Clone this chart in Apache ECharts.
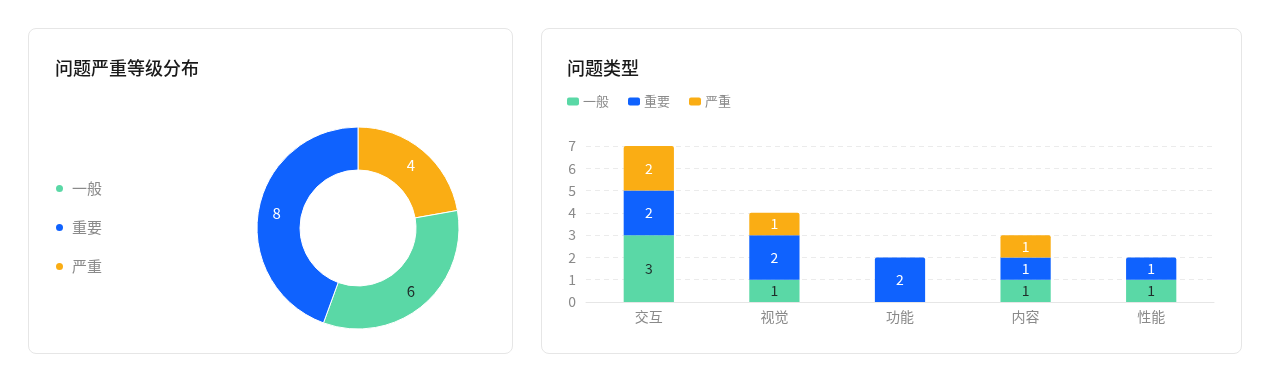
<!DOCTYPE html>
<html><head><meta charset="utf-8">
<script src="https://cdn.jsdelivr.net/npm/echarts@6/dist/echarts.min.js"></script>
<style>
html,body{margin:0;padding:0;background:#fff;width:1269px;height:379px;overflow:hidden;}
.card{position:absolute;top:28px;height:326px;border:1px solid #e6e6e6;border-radius:8px;box-sizing:border-box;background:#fff;}
#c1{left:28px;width:485px;}
#c2{left:541px;width:701px;}
.chart{position:absolute;left:-1px;top:-1px;}
</style></head>
<body>
<div class="card" id="c1"><div class="chart" id="pie" style="width:485px;height:326px"></div></div>
<div class="card" id="c2"><div class="chart" id="bar" style="width:701px;height:326px"></div></div>
<script>
var levels = ['一般', '重要', '严重'];
var levelColors = ['#5AD8A6', '#0F62FE', '#FAAD14'];
var levelCounts = [6, 8, 4];
var pieOrder = [2, 0, 1];
var categories = ['交互', '视觉', '功能', '内容', '性能'];
var generalVals = [3, 1, 0, 1, 1];
var importantVals = [2, 2, 2, 1, 1];
var severeVals = [2, 1, 0, 1, 0];
var yTicks = [0, 1, 2, 3, 4, 5, 6, 7];

var font = '"Noto Sans CJK SC","Noto Sans",sans-serif';
var labelDark = '#1f2d2a';

var pie = echarts.init(document.getElementById('pie'));
pie.setOption({
  textStyle:{fontFamily:font},
  title:{text:'问题严重等级分布',left:27,top:31,padding:0,textStyle:{fontFamily:font,fontSize:18,fontWeight:500,color:'#1a1a1a'}},
  legend:{orient:'vertical',left:26,top:153,padding:0,itemGap:24,icon:'circle',itemWidth:9,itemHeight:9,data:levels,
    textStyle:{fontFamily:font,fontSize:15,color:'#8a8a8a',padding:[0,0,0,3]}},
  series:[{type:'pie',center:[330,200],radius:[58,101],startAngle:90,clockwise:true,
    avoidLabelOverlap:false,
    itemStyle:{borderColor:'#fff',borderWidth:1},
    label:{show:true,position:'inside',fontFamily:font,fontSize:15,formatter:'{c}'},
    labelLine:{show:false},
    data:pieOrder.map(function(i){return {name:levels[i],value:levelCounts[i],
      itemStyle:{color:levelColors[i]},label:{color:i===0?labelDark:'#fff'}};})
  }]
});

var stacks = [generalVals, importantVals, severeVals];
function topIndex(j){var t=-1;for(var s=0;s<stacks.length;s++){if(stacks[s][j]>0)t=s;}return t;}
var bar = echarts.init(document.getElementById('bar'));
bar.setOption({
  textStyle:{fontFamily:font},
  title:{text:'问题类型',left:26,top:31,padding:0,textStyle:{fontFamily:font,fontSize:18,fontWeight:500,color:'#1a1a1a'}},
  legend:{left:26,top:67,padding:0,itemGap:19,itemWidth:12,itemHeight:8,icon:'roundRect',data:levels,
    textStyle:{fontFamily:font,fontSize:13,color:'#8a8a8a',padding:[0,0,0,-1]}},
  grid:{left:45,right:28,top:118,bottom:52},
  xAxis:{type:'category',data:categories,
    axisLine:{lineStyle:{color:'#e6e6e6'}},
    axisTick:{alignWithLabel:true,length:4,lineStyle:{color:'#d9d9d9'}},
    axisLabel:{fontFamily:font,fontSize:14,color:'#8a8a8a',margin:8}},
  yAxis:{type:'value',min:yTicks[0],max:yTicks[yTicks.length-1],interval:1,
    axisLine:{show:false},axisTick:{show:false},
    axisLabel:{fontFamily:font,fontSize:14,color:'#8a8a8a',margin:10},
    splitLine:{lineStyle:{color:'#ebebeb',type:[5,4]}}},
  series:stacks.map(function(vals,s){
    return {name:levels[s],type:'bar',stack:'total',barWidth:'40%',
      itemStyle:{color:levelColors[s]},
      label:{show:true,position:'inside',fontFamily:font,fontSize:14,color:s===0?labelDark:'#fff'},
      data:vals.map(function(v,j){
        if(v===0) return null;
        return {value:v,itemStyle:{borderRadius:topIndex(j)===s?[2,2,0,0]:0}};
      })};
  })
});
</script>
</body></html>
